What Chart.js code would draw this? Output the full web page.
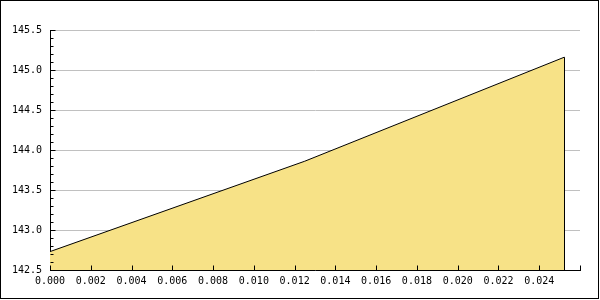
<!DOCTYPE html>
<html>
<head>
<meta charset="utf-8">
<script src="https://cdn.jsdelivr.net/npm/chart.js@4/dist/chart.umd.min.js"></script>
<style>
  body { margin: 0; background: #fff; }
  #wrap { width: 600px; height: 300px; }
</style>
</head>
<body>
<div id="wrap"><canvas id="chart" width="600" height="300"></canvas></div>
<script>
// values
const xValues = [0, 0.0125, 0.02523];
const yValues = [142.73, 143.86, 145.16];
const yTicksMinor = 0.1;

const points = xValues.map((x, i) => ({ x: x, y: yValues[i] }));

// ticks point inward, plus the frame round the whole picture
const tickMarks = {
  id: 'tickMarks',
  afterDraw(chart) {
    const ctx = chart.ctx;
    const xs = chart.scales.x, ys = chart.scales.y;
    const area = chart.chartArea;
    ctx.save();
    ctx.strokeStyle = '#000';
    ctx.lineWidth = 1;
    ctx.beginPath();
    const left = Math.round(area.left) + 0.5;
    const bottom = Math.round(area.bottom) + 0.5;
    // y minor + major
    for (let v = ys.min; v <= ys.max + 1e-9; v += yTicksMinor) {
      const py = Math.round(ys.getPixelForValue(v)) + 0.5;
      const major = Math.abs(v * 2 - Math.round(v * 2)) < 1e-6;
      ctx.moveTo(left, py);
      ctx.lineTo(left + (major ? 5 : 3), py);
    }
    // x major
    xs.ticks.forEach(t => {
      const px = Math.round(xs.getPixelForValue(t.value)) + 0.5;
      ctx.moveTo(px, bottom);
      ctx.lineTo(px, bottom - 5);
    });
    // drop line at the end of the area
    const meta = chart.getDatasetMeta(0);
    const last = meta.data[meta.data.length - 1];
    const lx = Math.round(last.x) + 0.5;
    ctx.moveTo(lx, last.y);
    ctx.lineTo(lx, bottom);
    ctx.stroke();
    ctx.strokeRect(0.5, 0.5, 598, 298);
    ctx.restore();
  }
};

new Chart(document.getElementById('chart'), {
  type: 'line',
  data: {
    datasets: [{
      data: points,
      borderColor: '#000',
      borderWidth: 1,
      backgroundColor: 'rgb(247,226,135)',
      fill: 'start',
      pointRadius: 0,
      tension: 0
    }]
  },
  options: {
    responsive: false,
    animation: false,
    layout: { padding: { left: 0, top: 30, right: 20, bottom: 0 } },
    plugins: { legend: { display: false }, tooltip: { enabled: false } },
    scales: {
      x: {
        type: 'linear',
        min: 0,
        max: 0.026,
        afterFit: s => { s.height = 30; },
        grid: { display: false, drawTicks: false },
        border: { color: '#000', width: 1 },
        ticks: {
          stepSize: 0.002,
          padding: 5,
          maxRotation: 0,
          autoSkip: false,
          color: '#000',
          font: { family: 'DejaVu Sans Mono', size: 10 },
          callback: v => (v > 0.0255 ? '' : v.toFixed(3))
        }
      },
      y: {
        min: 142.5,
        max: 145.5,
        afterFit: s => { s.width = 50; },
        grid: { color: '#c0c0c0', drawTicks: false },
        border: { color: '#000', width: 1 },
        ticks: {
          stepSize: 0.5,
          padding: 8,
          color: '#000',
          font: { family: 'DejaVu Sans Mono', size: 10 },
          callback: v => v.toFixed(1)
        }
      }
    }
  },
  plugins: [tickMarks]
});
</script>
</body>
</html>
